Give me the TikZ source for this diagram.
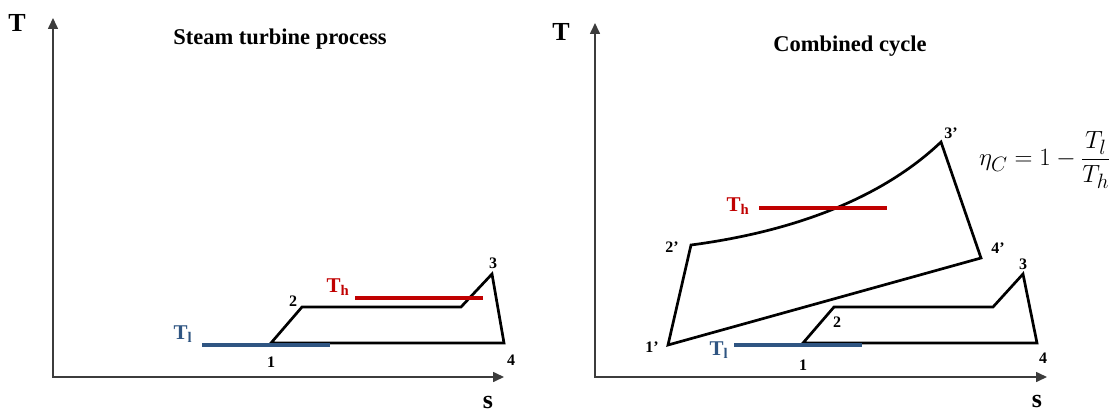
\documentclass[tikz,border=0pt]{standalone}
\usepackage{amsmath}
\usepackage{fontspec}
\setmainfont{Liberation Serif}
\usetikzlibrary{arrows.meta}
\definecolor{lowBlue}{RGB}{47,85,130}
\definecolor{highRed}{RGB}{192,0,0}
\definecolor{axisGray}{RGB}{60,60,60}

\begin{document}
\begin{tikzpicture}[x=1pt,y=-1pt,
  axis/.style={axisGray, line width=1.6pt, {Triangle[length=11pt,width=10pt]}-{Triangle[length=11pt,width=10pt]}},
  loopline/.style={black, line width=2.7pt, line join=miter},
  tlow/.style={lowBlue, line width=4pt},
  thigh/.style={highRed, line width=4pt},
  ptlabel/.style={font=\bfseries\fontsize{16}{18}\selectfont, inner sep=0pt},
  axlabel/.style={font=\bfseries\fontsize{26}{28}\selectfont, inner sep=0pt},
  tlabel/.style={font=\bfseries\fontsize{21}{24}\selectfont, inner sep=0pt},
  title/.style={font=\bfseries\fontsize{22.5}{26}\selectfont, inner sep=0pt}]
\useasboundingbox (0,0) rectangle (1114,412);

% left panel: steam turbine
\coordinate (oL) at (53,377);
\coordinate (yL) at (53,18);
\coordinate (xL) at (504,377);
\draw[axis] (yL) -- (oL) -- (xL);
\node[axlabel] (TL) at (17,23) {T};
\node[axlabel] (sL) at (488,402) {s};
\node[title] (titleL) at (280,39) {Steam turbine process};

\coordinate (a1) at (271,343);
\coordinate (a2) at (302,307);
\coordinate (a2r) at (461,307);
\coordinate (a3) at (492,274);
\coordinate (a4) at (504,343);
\draw[loopline] (a1) -- (a2) -- (a2r) -- (a3) -- (a4) -- cycle;

\coordinate (lowLa) at (202,345);
\coordinate (lowLb) at (330,345);
\draw[tlow] (lowLa) -- (lowLb);
\coordinate (highLa) at (355,298);
\coordinate (highLb) at (483,298);
\draw[thigh] (highLa) -- (highLb);
\node[tlabel, text=lowBlue] (tlL) at (183,334) {T\textsubscript{l}};
\node[tlabel, text=highRed] (thL) at (338,287) {T\textsubscript{h}};

\node[ptlabel] (n1L) at (271,362) {1};
\node[ptlabel] (n2L) at (293,301) {2};
\node[ptlabel] (n3L) at (493,263) {3};
\node[ptlabel] (n4L) at (511,360) {4};

% right panel: combined cycle
\coordinate (oR) at (595,377);
\coordinate (yR) at (595,23);
\coordinate (xR) at (1047,377);
\draw[axis] (yR) -- (oR) -- (xR);
\node[axlabel] (TR) at (561,32) {T};
\node[axlabel] (sR) at (1037,401) {s};
\node[title] (titleR) at (850,46) {Combined cycle};

\coordinate (g1) at (668,345);
\coordinate (g2) at (691,245);
\coordinate (g3) at (941,142);
\coordinate (g4) at (981,258);
\draw[loopline] (g1) -- (g2) .. controls (790,232) and (880,200) .. (g3) -- (g4) -- cycle;

\coordinate (b1) at (803,343);
\coordinate (b2) at (834,307);
\coordinate (b2r) at (993,307);
\coordinate (b3) at (1023,274);
\coordinate (b4) at (1037,343);
\draw[loopline] (b1) -- (b2) -- (b2r) -- (b3) -- (b4) -- cycle;

\coordinate (lowRa) at (734,345);
\coordinate (lowRb) at (862,345);
\draw[tlow] (lowRa) -- (lowRb);
\coordinate (highRa) at (759,208);
\coordinate (highRb) at (887,208);
\draw[thigh] (highRa) -- (highRb);
\node[tlabel, text=lowBlue] (tlR) at (719,350) {T\textsubscript{l}};
\node[tlabel, text=highRed] (thR) at (738,206) {T\textsubscript{h}};

\node[ptlabel] (n1R) at (803,365) {1};
\node[ptlabel] (n2R) at (837,322) {2};
\node[ptlabel] (n3R) at (1023,264) {3};
\node[ptlabel] (n4R) at (1043,358) {4};
\node[ptlabel] (m1R) at (652,347) {1’};
\node[ptlabel] (m2R) at (672,247) {2’};
\node[ptlabel] (m3R) at (951,133) {3’};
\node[ptlabel] (m4R) at (998,248) {4’};

\node[anchor=west, inner sep=0pt, font=\fontsize{29}{33}\selectfont] (eff) at (979,160)
  {$\eta_C = 1-\dfrac{T_l}{T_h}$};
\end{tikzpicture}
\end{document}
